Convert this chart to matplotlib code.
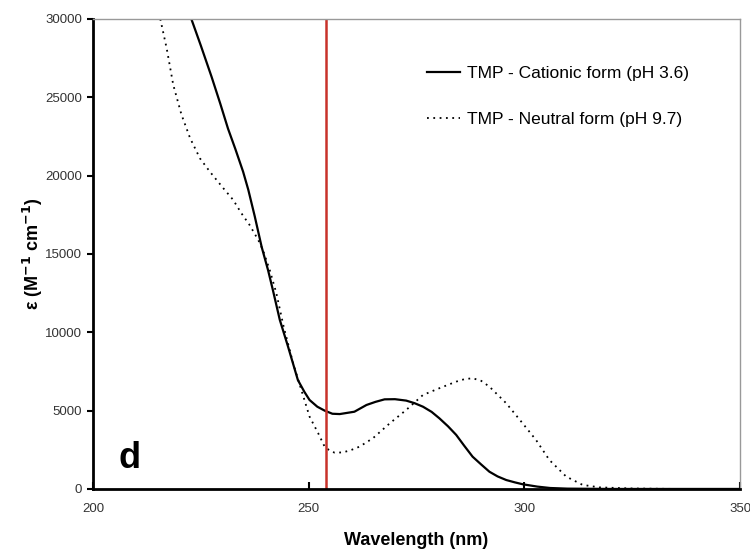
import numpy as np
import matplotlib.pyplot as plt

plt.rcParams['font.family'] = ['Liberation Sans', 'DejaVu Sans']

# cationic form (pH 3.6)
wl_cat = [222.8, 225.0, 227.5, 229.5, 231.3, 233.0, 234.8, 236.0, 237.5, 239.1,
          240.6, 241.7, 243.3, 245.2, 247.5, 249.0, 250.2, 252.0, 253.7, 255.5,
          257.2, 260.6, 263.4, 265.5, 267.6, 270.0, 272.6, 274.5, 276.5, 278.5,
          280.3, 282.3, 284.2, 286.0, 288.0, 290.0, 291.9, 293.8, 295.8, 297.8,
          299.6, 303.0, 306.0, 310.0, 320.0, 335.0, 350.0]
eps_cat = [30000, 28300, 26300, 24600, 23000, 21700, 20250, 19100, 17400, 15450,
           13950, 12700, 10800, 9100, 6950, 6200, 5680, 5250, 5000, 4800,
           4780, 4930, 5360, 5560, 5720, 5730, 5640, 5480, 5250, 4920,
           4510, 4000, 3450, 2780, 2060, 1560, 1100, 800, 570, 420,
           300, 150, 60, 20, 0, 0, 0]

# neutral form (pH 9.7)
wl_neu = [215.6, 217.1, 218.6, 220.5, 222.5, 224.8, 227.1, 230.2, 232.5, 234.4,
          236.3, 238.3, 239.4, 241.0, 242.5, 244.2, 246.4, 248.3, 250.2, 252.2,
          253.7, 255.0, 256.0, 257.9, 259.8, 261.8, 264.9, 268.8, 272.6, 276.5,
          280.3, 284.2, 286.0, 288.0, 290.0, 291.9, 295.8, 299.6, 302.7, 305.8,
          309.7, 313.5, 317.4, 325.0, 335.0, 350.0]
eps_neu = [30000, 28100, 25800, 23900, 22400, 21100, 20250, 19200, 18450, 17600,
           16850, 15900, 15250, 13950, 12500, 10360, 8020, 6320, 4620, 3560,
           2700, 2420, 2320, 2330, 2480, 2700, 3240, 4190, 5040, 6000,
           6430, 6850, 7000, 7070, 6900, 6530, 5470, 4190, 3130, 1850,
           790, 260, 100, 30, 0, 0]

marker_wl = 254
labels = ['TMP - Cationic form (pH 3.6)', 'TMP - Neutral form (pH 9.7)']

fig = plt.figure(figsize=(7.5, 5.5), dpi=100)
ax = fig.add_axes([0.124, 0.111, 0.8627, 0.8545])

ax.plot(wl_cat, eps_cat, color='black', lw=1.6, label=labels[0])
ax.plot(wl_neu, eps_neu, color='black', lw=1.3, linestyle=(0, (1, 2.5)), label=labels[1])
ax.axvline(marker_wl, color='#c8322a', lw=1.8)

ax.set_xlim(200, 350)
ax.set_ylim(0, 30000)
ax.set_xticks([200, 250, 300, 350])
ax.set_yticks(np.arange(0, 30001, 5000))

for s in ['left', 'bottom']:
    ax.spines[s].set_linewidth(2)
for s in ['top', 'right']:
    ax.spines[s].set_color('#999999')
    ax.spines[s].set_linewidth(1)

ax.tick_params(axis='x', direction='in', length=5, width=1.5, pad=10, labelsize=9.5, labelcolor='#333333')
ax.tick_params(axis='y', direction='out', length=4, width=1.5, pad=4, labelsize=9.5, labelcolor='#333333')

ax.set_xlabel('Wavelength (nm)', fontsize=13, fontweight='bold', labelpad=12)
ax.set_ylabel('ε (M$^{\\mathbf{-1}}$ cm$^{\\mathbf{-1}}$)', fontsize=13, fontweight='bold', labelpad=0)

ax.text(0.04, 0.045, 'd', transform=ax.transAxes, fontsize=26, fontweight='bold')

leg = ax.legend(loc='upper left', bbox_to_anchor=(0.516, 0.9), frameon=False,
                fontsize=12.5, handlelength=1.9, handletextpad=0.4, labelspacing=1.75,
                borderpad=0, borderaxespad=0)

fig.savefig('out.png', dpi=100)
